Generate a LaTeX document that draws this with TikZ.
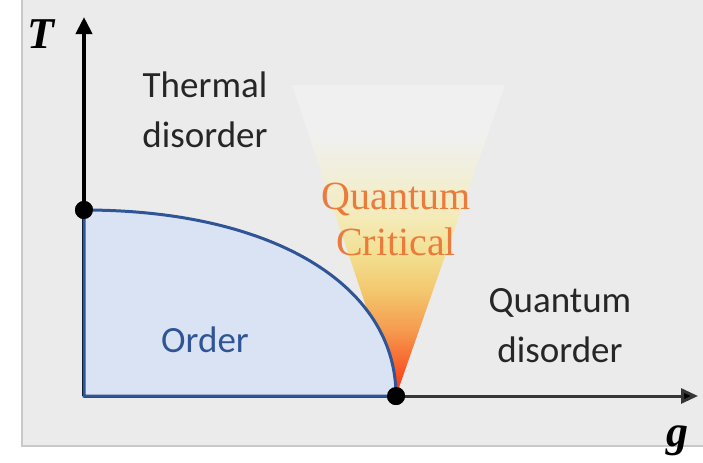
\documentclass[tikz,border=0pt]{standalone}
\usepackage{fontspec}
\setmainfont{Carlito}
\newfontfamily\critfont{Liberation Serif}
\usepackage{tikz}
\usetikzlibrary{arrows.meta, positioning}
\definecolor{panel}{HTML}{EBEBEB}
\definecolor{frame}{HTML}{C9C9C9}
\definecolor{orderfill}{HTML}{DAE3F3}
\definecolor{orderline}{HTML}{2F5597}
\definecolor{critical}{HTML}{EC7A3A}
\definecolor{axisgray}{HTML}{363636}
\definecolor{qcred}{HTML}{FF2A0E}
\definecolor{qcorangered}{HTML}{F8622C}
\definecolor{qcorange}{HTML}{F59A4E}
\definecolor{qcamber}{HTML}{F3C86E}
\definecolor{qcyellow}{HTML}{F2E092}
\definecolor{qcpale}{HTML}{F3EBBA}
\definecolor{qccream}{HTML}{F1EFDA}
\definecolor{qctop}{HTML}{F0F0F0}
\pgfdeclareverticalshading{qcshade}{100bp}{color(0bp)=(qcred); color(25bp)=(qcred);
  color(30bp)=(qcorangered); color(35.5bp)=(qcorange); color(42bp)=(qcamber);
  color(48bp)=(qcyellow); color(54bp)=(qcpale); color(61bp)=(qccream);
  color(67bp)=(qctop); color(100bp)=(qctop)}
\tikzset{
  taxis/.style={line width=2pt, black, -{Triangle[length=8.5pt, width=8pt]}},
  gaxis/.style={line width=1.5pt, axisgray, -{Triangle[length=8.5pt, width=7.5pt, fill=black]}},
  dot/.style={circle, fill=black, inner sep=0pt, minimum size=9pt},
  phase/.style={font=\fontsize{18.5}{25}\selectfont, align=center, text=black!85},
  orderreg/.style={fill=orderfill, draw=orderline, line width=1.5pt},
  crit/.style={font=\critfont\fontsize{20}{23}\selectfont, align=center, text=critical},
  axlabel/.style={font=\critfont\bfseries\itshape\fontsize{22}{24}\selectfont, inner sep=0pt},
}

\begin{document}
\begin{tikzpicture}[x=0.5pt, y=-0.5pt]
  \useasboundingbox (0,0) rectangle (703,462);
  % panel
  \fill[white] (0,0) rectangle (703,462);
  \fill[panel] (22,0) rectangle (703,446);
  \draw[frame, line width=0.8pt] (22,0) -- (22,446) -- (703,446);

  \coordinate (origin) at (84,396);
  \coordinate (ttip) at (84,17);
  \coordinate (gtip) at (698,396);
  \coordinate (coneL) at (292,85);
  \coordinate (coneR) at (505,85);
  \node[dot] (tc) at (84,210) {};
  \node[dot] (gc) at (396,396) {};

  % critical fan
  \shade[shading=qcshade] (coneL) -- (coneR) -- (gc.center) -- cycle;

  % axes
  \draw[taxis] (origin) -- (ttip);
  \draw[gaxis] (origin) -- (gtip);

  % ordered phase
  \draw[orderreg] (tc.center) .. controls (271,210) and (396,284) .. (gc.center)
    -- (origin) -- cycle;
  \node[dot] at (tc) {};
  \node[dot] at (gc) {};

  % labels
  \node[axlabel] (tlabel) at (41,34) {T};
  \node[axlabel] (glabel) at (677,441) {g};
  \node[phase] (thermal) at (205,110) {Thermal\\disorder};
  \node[phase] (quantum) at (560,326) {Quantum\\disorder};
  \node[phase, text=orderline] (order) at (205,340) {Order};
  \node[crit] (qc) at (396,219) {Quantum\\Critical};
\end{tikzpicture}
\end{document}
